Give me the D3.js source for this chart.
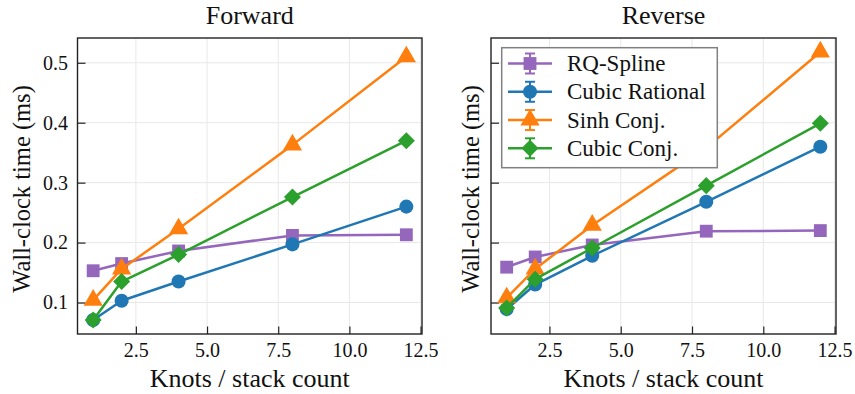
<!DOCTYPE html>
<html>
<head>
<meta charset="utf-8">
<script src="https://cdn.jsdelivr.net/npm/d3@7"></script>
<style>
  html, body { margin: 0; padding: 0; background: #fff; }
  svg { display: block; }
  svg text { font-family: 'Liberation Serif', serif; }
</style>
</head>
<body>
<svg id="chart" width="855" height="394"></svg>
<script>
// Knot / stack counts on the x axis
const knots = [1, 2, 4, 8, 12];

// Method names (legend order = draw order)
const methods = ["RQ-Spline", "Cubic Rational", "Sinh Conj.", "Cubic Conj."];
const colors = ["#9467bd", "#1f77b4", "#ff7f0e", "#2ca02c"];
const markers = ["square", "circle", "triangle", "diamond"];

// Wall-clock time (ms), forward pass
const forwardRQ     = [0.153, 0.165, 0.186, 0.212, 0.213];
const forwardCubRat = [0.071, 0.103, 0.135, 0.197, 0.260];
const forwardSinh   = [0.104, 0.156, 0.223, 0.363, 0.510];
const forwardCubCon = [0.071, 0.135, 0.180, 0.276, 0.370];

// Wall-clock time (ms), reverse pass
const reverseRQ     = [0.159, 0.176, 0.196, 0.219, 0.220];
const reverseCubRat = [0.089, 0.130, 0.178, 0.268, 0.360];
const reverseSinh   = [0.108, 0.156, 0.229, 0.358, 0.518];
const reverseCubCon = [0.091, 0.139, 0.191, 0.295, 0.399];

// Tick values
const xTicks = [2.5, 5.0, 7.5, 10.0, 12.5];
const yTicks = [0.1, 0.2, 0.3, 0.4, 0.5];

const FONT = "'Liberation Serif', serif";

const panels = [
  { title: "Forward", x0: 77.5, x1: 422, series: [forwardRQ, forwardCubRat, forwardSinh, forwardCubCon], yLabels: true, legend: false, ylabX: 30 },
  { title: "Reverse", x0: 491, x1: 836, series: [reverseRQ, reverseCubRat, reverseSinh, reverseCubCon], yLabels: false, legend: true, ylabX: 479 }
];
const plotTop = 38, plotBottom = 334;

const svg = d3.select("#chart");

// shared y scale for both panels
const y = d3.scaleLinear().domain([0.0475, 0.5413]).range([plotBottom, plotTop]);

function markerPath(kind, size) {
  const sym = { square: d3.symbolSquare, circle: d3.symbolCircle, triangle: d3.symbolTriangle, diamond: d3.symbolDiamond2 }[kind];
  return d3.symbol().type(sym).size(size)();
}
const markerSize = { square: 165, circle: 155, triangle: 160, diamond: 185 };

panels.forEach(p => {
  const x = d3.scaleLinear().domain([0.45, 12.55]).range([p.x0, p.x1]);
  const g = svg.append("g");

  // grid
  g.append("g").selectAll("line").data(xTicks).join("line")
    .attr("x1", d => x(d)).attr("x2", d => x(d)).attr("y1", plotTop).attr("y2", plotBottom)
    .attr("stroke", "#e8e8e8").attr("stroke-width", 1);
  g.append("g").selectAll("line").data(yTicks).join("line")
    .attr("x1", p.x0).attr("x2", p.x1).attr("y1", d => y(d)).attr("y2", d => y(d))
    .attr("stroke", "#e8e8e8").attr("stroke-width", 1);

  // axes with inward ticks
  const xAxis = d3.axisBottom(x).tickValues(xTicks).tickSize(-7.5).tickPadding(8.5).tickFormat(d3.format(".1f"));
  const gx = g.append("g").attr("transform", `translate(0,${plotBottom})`).call(xAxis)
    .attr("font-family", FONT).attr("font-size", 20);
  gx.select(".domain").remove();
  gx.selectAll(".tick line").attr("stroke", "#222").attr("stroke-width", 1.2);
  gx.selectAll(".tick text").attr("fill", "#111").attr("y", 8.5);

  const yAxis = d3.axisLeft(y).tickValues(yTicks).tickSize(-8).tickPadding(9.5)
    .tickFormat(p.yLabels ? d3.format(".1f") : () => "");
  const gy = g.append("g").attr("transform", `translate(${p.x0},0)`).call(yAxis)
    .attr("font-family", FONT).attr("font-size", 20);
  gy.select(".domain").remove();
  gy.selectAll(".tick line").attr("stroke", "#222").attr("stroke-width", 1.2);
  gy.selectAll(".tick text").attr("fill", "#111").attr("x", -9.5);

  // series
  const line = d3.line().x((d, i) => x(knots[i])).y(d => y(d));
  p.series.forEach((vals, si) => {
    const sg = g.append("g");
    sg.append("path").datum(vals).attr("d", line)
      .attr("fill", "none").attr("stroke", colors[si]).attr("stroke-width", 2.5)
      .attr("stroke-linejoin", "round");
    sg.selectAll("path.m").data(vals).join("path").attr("class", "m")
      .attr("d", markerPath(markers[si], markerSize[markers[si]]))
      .attr("transform", (d, i) => `translate(${x(knots[i])},${y(d)})`)
      .attr("fill", colors[si]);
  });

  // frame
  g.append("rect").attr("x", p.x0).attr("y", plotTop).attr("width", p.x1 - p.x0).attr("height", plotBottom - plotTop)
    .attr("fill", "none").attr("stroke", "#222").attr("stroke-width", 1.4);

  // title
  g.append("text").attr("x", (p.x0 + p.x1) / 2).attr("y", 23.5).attr("text-anchor", "middle")
    .attr("font-size", 26).attr("fill", "#111").text(p.title);

  // x label
  g.append("text").attr("x", (p.x0 + p.x1) / 2).attr("y", 387).attr("text-anchor", "middle")
    .attr("font-size", 26).attr("fill", "#111").text("Knots / stack count");

  // y label
  g.append("text").attr("transform", `translate(${p.ylabX},189) rotate(-90)`).attr("text-anchor", "middle")
    .attr("font-size", 24.5).attr("fill", "#111").text("Wall-clock time (ms)");

  if (p.legend) {
    const lg = g.append("g");
    lg.append("rect").attr("x", 501.7).attr("y", 47.7).attr("width", 215.6).attr("height", 120)
      .attr("fill", "#fff").attr("stroke", "#808080").attr("stroke-width", 1.5);
    const rowY = d3.scaleLinear().domain([0, 3]).range([63.5, 148.3]);
    methods.forEach((m, i) => {
      const cy = rowY(i);
      const r = lg.append("g");
      r.append("line").attr("x1", 508).attr("x2", 552).attr("y1", cy).attr("y2", cy)
        .attr("stroke", colors[i]).attr("stroke-width", 2.5);
      // error bar glyph
      r.append("line").attr("x1", 530).attr("x2", 530).attr("y1", cy - 10).attr("y2", cy + 10)
        .attr("stroke", colors[i]).attr("stroke-width", 2);
      [cy - 10, cy + 10].forEach(cyy => r.append("line").attr("x1", 525).attr("x2", 535)
        .attr("y1", cyy).attr("y2", cyy).attr("stroke", colors[i]).attr("stroke-width", 2));
      r.append("path").attr("d", markerPath(markers[i], markerSize[markers[i]]))
        .attr("transform", `translate(530,${cy})`).attr("fill", colors[i]);
      r.append("text").attr("x", 567).attr("y", cy + 7.5)
        .attr("font-size", 23).attr("fill", "#111").text(m);
    });
  }
});
</script>
</body>
</html>
